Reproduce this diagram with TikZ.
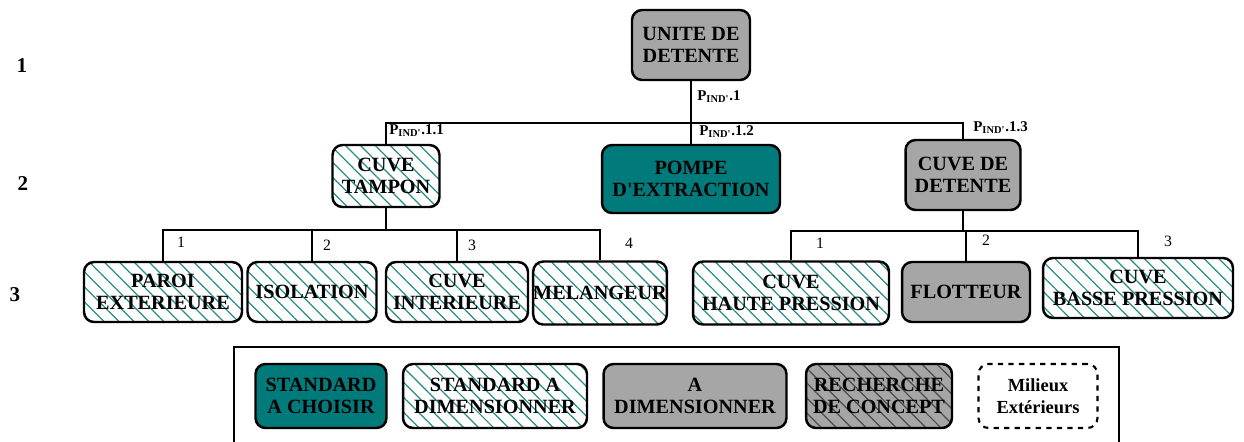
\documentclass[tikz,border=0pt]{standalone}
\usepackage{fontspec}
\setmainfont{Liberation Serif}[Ligatures=TeXOff]
\usetikzlibrary{patterns.meta}
\definecolor{tealbox}{RGB}{0,122,122}
\definecolor{graybox}{RGB}{166,166,166}
\definecolor{hatchc}{RGB}{40,140,140}
\newcommand{\pind}[1]{\textbf{P\textsubscript{IND'}.#1}}
\tikzset{
  box/.style={draw, line width=1.4pt, rounded corners=0.2cm, align=center, inner sep=0pt,
    font=\bfseries\fontsize{11.5}{12.8}\selectfont},
  graybx/.style={box, fill=graybox},
  tealbx/.style={box, fill=tealbox},
  hatchbx/.style={box, pattern={Lines[angle=-45,distance=6pt,line width=0.7pt]}, pattern color=hatchc},
  rechbx/.style={box, preaction={fill=graybox}, pattern={Lines[angle=-45,distance=6pt,line width=0.7pt]}, pattern color=black!70},
  dashbx/.style={box, dashed, line width=1.2pt},
  conn/.style={line width=1.3pt},
  num/.style={font=\fontsize{9}{10}\selectfont, inner sep=0pt},
  plab/.style={font=\fontsize{8.5}{10}\selectfont, inner sep=0pt, anchor=west},
  rowlab/.style={font=\bfseries\fontsize{12}{14}\selectfont, inner sep=0pt}
}
\begin{document}
\begin{tikzpicture}[x=0.02cm, y=-0.02cm]
\useasboundingbox (0,0) rectangle (1244,441);
% row labels
\node[rowlab] (r1) at (22,66) {1};
\node[rowlab] (r2) at (23,184) {2};
\node[rowlab] (r3) at (15,295) {3};
% level 1
\node[graybx, minimum width=2.36cm, minimum height=1.4cm] (root) at (691,45) {UNITE DE\\DETENTE};
% level 2
\node[hatchbx, minimum width=2.14cm, minimum height=1.24cm] (tampon) at (386,176) {CUVE\\TAMPON};
\node[tealbx, minimum width=3.56cm, minimum height=1.36cm] (pompe) at (691,179) {POMPE\\D'EXTRACTION};
\node[graybx, minimum width=2.3cm, minimum height=1.4cm] (cuvedet) at (963,175) {CUVE DE\\DETENTE};
% level 3
\node[hatchbx, minimum width=3.16cm, minimum height=1.2cm] (paroi) at (163,292) {PAROI\\EXTERIEURE};
\node[hatchbx, minimum width=2.58cm, minimum height=1.2cm] (isol) at (312,292) {ISOLATION};
\node[hatchbx, minimum width=2.84cm, minimum height=1.2cm] (cint) at (457,292) {CUVE\\INTERIEURE};
\node[hatchbx, minimum width=2.56cm, minimum height=1.26cm] (mel) at (600,293) {MELANGEUR};
\node[hatchbx, minimum width=3.92cm, minimum height=1.26cm] (chp) at (791,293) {CUVE\\HAUTE PRESSION};
\node[graybx, minimum width=2.56cm, minimum height=1.2cm] (flot) at (966,292) {FLOTTEUR};
\node[hatchbx, minimum width=3.8cm, minimum height=1.2cm] (cbp) at (1138,288) {CUVE\\BASSE PRESSION};
% connectors level 1-2
\coordinate (b1) at (691,123);
\draw[conn] (root.south) -- (b1);
\draw[conn] (tampon.north) -- (tampon.north |- b1) -- (cuvedet.north |- b1) -- (cuvedet.north);
\draw[conn] (b1) -- (pompe.north);
% connectors level 2-3 left
\coordinate (b2) at (386,230);
\draw[conn] (tampon.south) -- (b2);
\draw[conn] (paroi.north) -- (paroi.north |- b2) -- (mel.north |- b2) -- (mel.north);
\draw[conn] (isol.north) -- (isol.north |- b2);
\draw[conn] (cint.north) -- (cint.north |- b2);
% connectors level 2-3 right
\coordinate (b3) at (963,231);
\draw[conn] (cuvedet.south) -- (b3);
\draw[conn] (chp.north) -- (chp.north |- b3) -- (cbp.north |- b3) -- (cbp.north);
\draw[conn] (flot.north) -- (flot.north |- b3);
% P labels
\node[plab] (p1) at (697,97) {\pind{1}};
\node[plab] (p11) at (389,131) {\pind{1.1}};
\node[plab] (p12) at (699,132) {\pind{1.2}};
\node[plab] (p13) at (973,128) {\pind{1.3}};
% numbers
\node[num] (n1) at (181,242) {1};
\node[num] (n2) at (327,245) {2};
\node[num] (n3) at (472,245) {3};
\node[num] (n4) at (629,243) {4};
\node[num] (m1) at (820,243) {1};
\node[num] (m2) at (986,240) {2};
\node[num] (m3) at (1168,241) {3};
% legend frame
\coordinate (lf1) at (234,445);
\coordinate (lf2) at (234,347);
\coordinate (lf3) at (1119,347);
\coordinate (lf4) at (1119,445);
\draw[line width=1.6pt] (lf1) -- (lf2) -- (lf3) -- (lf4);
% legend items
\node[tealbx, minimum width=2.62cm, minimum height=1.28cm] (l1) at (321,396) {STANDARD\\A CHOISIR};
\node[hatchbx, minimum width=3.68cm, minimum height=1.28cm] (l2) at (495,396) {STANDARD A\\DIMENSIONNER};
\node[graybx, minimum width=3.66cm, minimum height=1.28cm] (l3) at (695,396) {A\\DIMENSIONNER};
\node[rechbx, minimum width=2.92cm, minimum height=1.28cm] (l4) at (879,396) {RECHERCHE\\DE CONCEPT};
\node[dashbx, minimum width=2.38cm, minimum height=1.28cm, font=\bfseries\fontsize{10.5}{12.8}\selectfont] (l5) at (1038,396) {Milieux\\Extérieurs};
\end{tikzpicture}
\end{document}
